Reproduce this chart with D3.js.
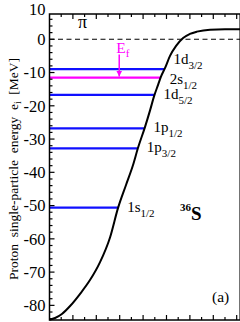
<!DOCTYPE html>
<html>
<head>
<meta charset="utf-8">
<script src="https://cdn.jsdelivr.net/npm/d3@7"></script>
<style>
  html, body { margin: 0; padding: 0; background: #fff; }
  svg text { font-family: "Liberation Serif", "DejaVu Serif", serif; }
</style>
</head>
<body>
<div id="chart"></div>
<script>
// potential curve, r [fm] vs V [MeV]
var potR = [0, 0.24, 0.53, 0.88, 1.30, 1.73, 2.16, 2.59, 2.93, 3.27, 3.57, 3.78, 4.08, 4.30, 4.47, 4.64, 4.76, 4.94, 5.15, 5.41, 5.71, 6.00, 6.30, 6.86, 7.5, 8.2];
var potV = [-84.3, -83.8, -82.6, -80.2, -76.6, -72.4, -67.0, -59.5, -50.7, -43.8, -37.8, -32.7, -26.4, -21.3, -17.1, -13.7, -11.3, -8.6, -5.0, -2.0, 0.4, 1.6, 2.3, 2.9, 3.0, 3.0];

// single-particle levels
var levelNames = ['1d', '2s', '1d', '1p', '1p', '1s'];
var levelJ     = ['3/2', '1/2', '5/2', '1/2', '3/2', '1/2'];
var levelE     = [-9.0, -11.5, -16.7, -26.8, -32.8, -50.6];
var fermiIndex = 1;       // 2s1/2 is the Fermi level
var fermiR = 2.98;        // where the E_f arrow sits

var yTicks = [10, 0, -10, -20, -30, -40, -50, -60, -70, -80];

var W = 240, H = 322;
var x = d3.scaleLinear().domain([0, 8.15]).range([49.5, 240.2]);
var y = d3.scaleLinear().domain([7.6, -84.4]).range([14, 320]);

var svg = d3.select('#chart').append('svg')
  .attr('width', W)
  .attr('height', H);

// r where potential crosses energy e (linear between points)
function crossR(e){
  for(var i=1; i<potR.length; i++){
    if(potV[i-1] <= e && potV[i] >= e){
      var t = (e - potV[i-1]) / (potV[i] - potV[i-1]);
      return potR[i-1] + t*(potR[i] - potR[i-1]);
    }
  }
  return potR[potR.length-1];
}

// zero line
svg.append('line')
  .attr('x1', x(0)).attr('x2', x(8.15))
  .attr('y1', y(0)).attr('y2', y(0))
  .attr('stroke', '#000')
  .attr('stroke-width', 1.1)
  .attr('stroke-dasharray', '5,3.5');

// levels
var levels = levelE.map(function(e, i){
  return {name: levelNames[i], j: levelJ[i], e: e, rEnd: crossR(e), fermi: i == fermiIndex};
});

svg.selectAll('.level')
  .data(levels)
  .enter()
  .append('line')
    .attr('class', 'level')
    .attr('x1', x(0))
    .attr('x2', function(d){ return x(d.rEnd); })
    .attr('y1', function(d){ return y(d.e); })
    .attr('y2', function(d){ return y(d.e); })
    .attr('stroke', function(d){ return d.fermi ? '#ff00ff' : '#1010ff'; })
    .attr('stroke-width', 2.2);

// level labels
var labelDy = {0: -5, 1: 6};
var lab = svg.selectAll('.lab')
  .data(levels)
  .enter()
  .append('text')
    .attr('class', 'lab')
    .attr('x', function(d){ return x(d.rEnd) + 9; })
    .attr('y', function(d, i){ return y(d.e) + (labelDy[i] !== undefined ? labelDy[i] : 4); })
    .attr('font-size', 15)
    .attr('fill', '#000');
lab.append('tspan').text(function(d){ return d.name; });
lab.append('tspan')
  .attr('dy', 5)
  .attr('font-size', 11)
  .text(function(d){ return d.j; });

// potential curve
var line = d3.line()
  .x(function(d){ return x(d[0]); })
  .y(function(d){ return y(d[1]); })
  .curve(d3.curveMonotoneX);

svg.append('path')
  .datum(potR.map(function(r, i){ return [r, potV[i]]; }))
  .attr('d', line)
  .attr('fill', 'none')
  .attr('stroke', '#000')
  .attr('stroke-width', 2);

// fermi arrow
var ef = levelE[fermiIndex];
svg.append('defs').append('marker')
  .attr('id', 'arr')
  .attr('viewBox', '0 0 10 10')
  .attr('refX', 10).attr('refY', 5)
  .attr('markerWidth', 6).attr('markerHeight', 6)
  .attr('markerUnits', 'userSpaceOnUse')
  .attr('orient', 'auto')
  .append('path')
    .attr('d', 'M0,0 L10,5 L0,10 z')
    .attr('fill', '#ff00ff');

svg.append('line')
  .attr('x1', x(fermiR)).attr('x2', x(fermiR))
  .attr('y1', y(-4.6)).attr('y2', y(ef) - 1)
  .attr('stroke', '#ff00ff')
  .attr('stroke-width', 1.5)
  .attr('marker-end', 'url(#arr)');

var efText = svg.append('text')
  .attr('x', x(fermiR) - 3)
  .attr('y', y(-4.2))
  .attr('font-size', 15.5)
  .attr('fill', '#ff00ff');
efText.append('tspan').text('E');
efText.append('tspan').attr('dy', 4).attr('font-size', 11).text('f');

// frame
svg.append('rect')
  .attr('x', x(0)).attr('y', y(7.6))
  .attr('width', x(8.15) - x(0))
  .attr('height', y(-84.4) - y(7.6))
  .attr('fill', 'none')
  .attr('stroke', '#000')
  .attr('stroke-width', 1.5);

// y ticks (inward)
var yMinor = d3.range(-84, 8, 2);
svg.selectAll('.ytick')
  .data(yMinor)
  .enter()
  .append('line')
    .attr('x1', x(0))
    .attr('x2', function(d){ return x(0) + (d % 10 == 0 ? 5 : 3); })
    .attr('y1', function(d){ return y(d); })
    .attr('y2', function(d){ return y(d); })
    .attr('stroke', '#000')
    .attr('stroke-width', 1.2);

// the "10" label sits above the frame, keep it inside the page
svg.selectAll('.ylab')
  .data(yTicks)
  .enter()
  .append('text')
    .attr('x', 45.5)
    .attr('y', function(d){ return Math.max(y(d), 9); })
    .attr('dy', '0.35em')
    .attr('text-anchor', 'end')
    .attr('font-size', 16.5)
    .text(function(d){ return d; });

// x ticks (inward, top and bottom, no labels)
var xMinor = d3.range(0.5, 8.1, 0.5);
['top', 'bottom'].forEach(function(side){
  var y0 = side == 'top' ? y(7.6) : y(-84.4);
  var s = side == 'top' ? 1 : -1;
  svg.selectAll('.xt-' + side)
    .data(xMinor)
    .enter()
    .append('line')
      .attr('x1', function(d){ return x(d); })
      .attr('x2', function(d){ return x(d); })
      .attr('y1', y0)
      .attr('y2', function(d){ return y0 + s*(d % 1 == 0 ? 5 : 3); })
      .attr('stroke', '#000')
      .attr('stroke-width', 1.2);
});

// y axis title
var yt = svg.append('text')
  .attr('transform', 'translate(18,' + 169 + ') rotate(-90)')
  .attr('text-anchor', 'middle')
  .attr('font-size', 13.5)
  .attr('xml:space', 'preserve');
yt.append('tspan').text('Proton  single-particle  energy  e');
yt.append('tspan').attr('dy', 3).attr('font-size', 9.5).text('i');
yt.append('tspan').attr('dy', -3).text('  [MeV]');

// annotations
svg.append('text')
  .attr('x', 78).attr('y', 28)
  .attr('font-size', 18)
  .text('π');

var nuc = svg.append('text')
  .attr('x', 180).attr('y', 220)
  .attr('font-weight', 'bold')
  .attr('font-size', 19);
nuc.append('tspan').attr('font-size', 11).attr('dy', -9).text('36');
nuc.append('tspan').attr('dy', 9).text('S');

svg.append('text')
  .attr('x', 212).attr('y', 302)
  .attr('font-size', 15.5)
  .text('(a)');
</script>
</body>
</html>
